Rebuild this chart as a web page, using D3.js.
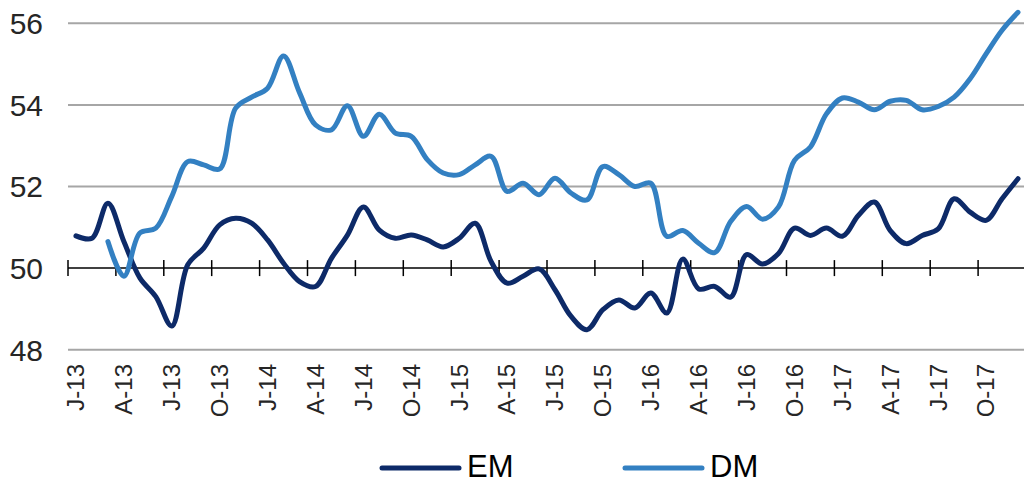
<!DOCTYPE html>
<html>
<head>
<meta charset="utf-8">
<script src="https://cdn.jsdelivr.net/npm/d3@7"></script>
<style>
  html, body { margin: 0; padding: 0; background: #fff; }
  svg { display: block; }
  text { font-family: "Liberation Sans", Arial, sans-serif; }
</style>
</head>
<body>
<svg id="chart" width="1024" height="484"></svg>
<script>
const categories = [
  "Jan-13","Feb-13","Mar-13","Apr-13","May-13","Jun-13","Jul-13","Aug-13","Sep-13","Oct-13","Nov-13","Dec-13",
  "Jan-14","Feb-14","Mar-14","Apr-14","May-14","Jun-14","Jul-14","Aug-14","Sep-14","Oct-14","Nov-14","Dec-14",
  "Jan-15","Feb-15","Mar-15","Apr-15","May-15","Jun-15","Jul-15","Aug-15","Sep-15","Oct-15","Nov-15","Dec-15",
  "Jan-16","Feb-16","Mar-16","Apr-16","May-16","Jun-16","Jul-16","Aug-16","Sep-16","Oct-16","Nov-16","Dec-16",
  "Jan-17","Feb-17","Mar-17","Apr-17","May-17","Jun-17","Jul-17","Aug-17","Sep-17","Oct-17","Nov-17","Dec-17"
];
const emValues = [
  50.79, 50.73, 51.59, 50.65, 49.76, 49.30, 48.58, 50.08, 50.49, 51.06, 51.22, 51.10,
  50.69, 50.12, 49.67, 49.55, 50.24, 50.81, 51.50, 50.93, 50.73, 50.81, 50.69, 50.52,
  50.73, 51.10, 50.16, 49.63, 49.80, 49.98, 49.47, 48.82, 48.49, 48.98, 49.22, 49.02,
  49.39, 48.90, 50.22, 49.49, 49.55, 49.29, 50.33, 50.10, 50.36, 50.98, 50.80, 50.98,
  50.78, 51.29, 51.62, 50.92, 50.60, 50.80, 50.96, 51.70, 51.37, 51.17, 51.70, 52.19
];
const dmValues = [
  null, null, 50.65, 49.80, 50.86, 50.98, 51.76, 52.61, 52.53, 52.43, 53.92, 54.19,
  54.41, 55.20, 54.30, 53.51, 53.39, 53.98, 53.23, 53.77, 53.31, 53.23, 52.66, 52.33,
  52.29, 52.53, 52.74, 51.88, 52.08, 51.80, 52.20, 51.84, 51.67, 52.49, 52.29, 52.00,
  52.08, 50.78, 50.92, 50.61, 50.38, 51.14, 51.51, 51.20, 51.50, 52.64, 52.97, 53.78,
  54.17, 54.07, 53.88, 54.09, 54.11, 53.88, 53.96, 54.19, 54.64, 55.25, 55.83, 56.27
];
const yTicks = [48, 50, 52, 54, 56];
const xTickLabels = [
  "J-13","A-13","J-13","O-13","J-14","A-14","J-14","O-14","J-15","A-15","J-15","O-15",
  "J-16","A-16","J-16","O-16","J-17","A-17","J-17","O-17"
];
const seriesNames = ["EM", "DM"];
const seriesColors = ["#0d2a68", "#3380c2"];

const svg = d3.select("#chart");
const plotLeft = 68, plotRight = 1026, plotTop = 23.3, plotBottom = 349.7;

const x = d3.scaleBand().domain(categories).range([plotLeft, plotRight]).paddingInner(0).paddingOuter(0);
const xc = c => x(c) + x.bandwidth() / 2;
const y = d3.scaleLinear().domain([48, 56]).range([plotBottom, plotTop]);

// gridlines (all but 50, which is the category axis)
svg.append("g").selectAll("line")
  .data(yTicks.filter(t => t !== 50))
  .join("line")
  .attr("x1", plotLeft).attr("x2", 1024)
  .attr("y1", d => y(d)).attr("y2", d => y(d))
  .attr("stroke", "#a6a6a6").attr("stroke-width", 2);

// y labels
svg.append("g").selectAll("text")
  .data(yTicks)
  .join("text")
  .attr("x", 43).attr("y", d => y(d))
  .attr("dy", "0.36em")
  .attr("text-anchor", "end")
  .attr("font-size", 30)
  .attr("fill", "#262626")
  .text(d => d);

// category axis at 50
const axisY = y(50);
const tickCats = categories.filter((c, i) => i % 3 === 0);
const xAxis = d3.axisBottom(x).tickValues(tickCats).tickSize(0).tickFormat("");
const axisG = svg.append("g").attr("transform", `translate(0,${axisY})`).call(xAxis);
axisG.select(".domain").remove();
axisG.append("line").attr("x1", plotLeft).attr("x2", 1024).attr("y1", 0).attr("y2", 0)
  .attr("stroke", "#000").attr("stroke-width", 1.5);
axisG.selectAll(".tickmark").data(tickCats).join("line")
  .attr("class", "tickmark")
  .attr("x1", d => x(d)).attr("x2", d => x(d))
  .attr("y1", -8).attr("y2", 8)
  .attr("stroke", "#000").attr("stroke-width", 1.5);

// x labels (rotated), below the 48 line
svg.append("g").selectAll("text")
  .data(tickCats)
  .join("text")
  .attr("transform", (d) => `translate(${xc(d)},364) rotate(-90)`)
  .attr("dy", "0.35em")
  .attr("text-anchor", "end")
  .attr("font-size", 24)
  .attr("fill", "#262626")
  .text((d, i) => xTickLabels[i]);

// lines
const line = d3.line()
  .defined(d => d.v !== null)
  .x(d => xc(d.c))
  .y(d => y(d.v))
  .curve(d3.curveCatmullRom.alpha(0.5));

[emValues, dmValues].forEach((vals, k) => {
  const data = categories.map((c, i) => ({ c, v: vals[i] }));
  svg.append("path")
    .datum(data)
    .attr("d", line)
    .attr("fill", "none")
    .attr("stroke", seriesColors[k])
    .attr("stroke-width", 5)
    .attr("stroke-linejoin", "round")
    .attr("stroke-linecap", "round");
});

// legend
const legendX = [382, 625];
const legend = svg.append("g");
seriesNames.forEach((name, k) => {
  legend.append("line")
    .attr("x1", legendX[k]).attr("x2", legendX[k] + 77)
    .attr("y1", 468).attr("y2", 468)
    .attr("stroke", seriesColors[k]).attr("stroke-width", 5)
    .attr("stroke-linecap", "round");
  legend.append("text")
    .attr("x", legendX[k] + 85).attr("y", 477)
    .attr("font-size", 31)
    .attr("fill", "#000")
    .text(name);
});
</script>
</body>
</html>
